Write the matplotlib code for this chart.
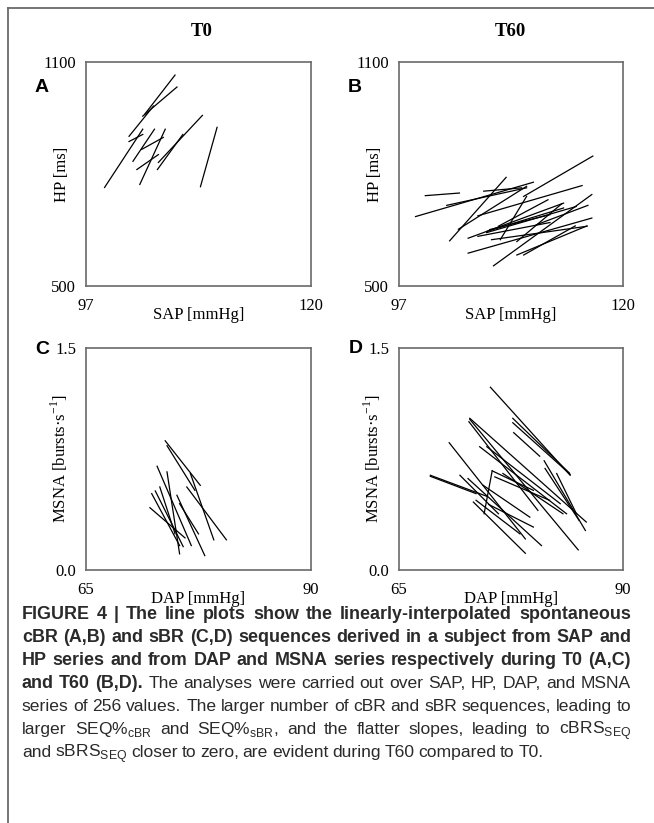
import matplotlib
matplotlib.use("Agg")
import matplotlib.pyplot as plt
from matplotlib.lines import Line2D

# ── Sequence segments (start, end) per panel ─────────────────────────────────
A_sap = [(106.1, 103.0), (106.3, 102.8), (103.9, 101.4), (98.9, 102.8), (101.4, 102.8),
         (104.0, 101.8), (105.1, 102.5), (102.7, 104.9), (102.2, 104.4), (108.9, 104.4),
         (106.9, 104.3), (110.4, 108.7)]
A_hp = [(1065, 960), (1033, 955), (982, 901), (764, 920), (887, 906),
        (920, 834), (920, 772), (866, 898), (812, 852), (957, 831),
        (906, 812), (925, 766)]

B_sap = [(99.7, 103.2), (98.7, 110.8), (102.2, 108.0), (103.1, 110.1), (109.8, 116.9),
         (105.1, 115.8), (104.1, 116.8), (106.7, 116.8), (109.1, 116.3), (104.1, 113.9),
         (106.0, 115.2), (106.5, 116.3), (107.2, 112.3), (107.4, 110.1), (109.1, 113.7),
         (109.8, 115.1), (111.1, 116.4), (106.3, 112.5), (101.9, 110.1), (105.7, 109.6),
         (106.0, 113.9), (105.1, 112.5)]
B_hp = [(742, 749), (686, 778), (621, 791), (652, 767), (740, 848),
        (688, 769), (588, 682), (554, 745), (583, 661), (628, 722),
        (643, 713), (624, 660), (660, 731), (624, 740), (619, 720),
        (583, 661), (664, 716), (651, 691), (716, 763), (754, 763),
        (646, 709), (633, 670)]

C_dap = [(73.8, 77.7), (74.0, 77.1), (76.2, 80.6), (72.9, 76.7), (74.0, 75.4),
         (72.3, 75.4), (72.7, 75.8), (72.1, 76.0), (75.1, 78.2), (75.4, 77.5),
         (76.6, 79.2), (73.2, 74.9)]
C_msna = [(0.873, 0.572), (0.840, 0.538), (0.561, 0.204), (0.701, 0.165), (0.663, 0.109),
          (0.516, 0.165), (0.534, 0.158), (0.421, 0.217), (0.505, 0.097), (0.448, 0.244),
          (0.652, 0.204), (0.561, 0.244)]

D_dap = [(75.2, 84.1), (77.7, 84.0), (77.7, 84.1), (77.8, 80.7), (72.9, 85.9),
         (72.9, 85.0), (72.8, 80.5), (70.6, 79.1), (68.5, 74.8), (68.5, 73.6),
         (71.8, 76.1), (74.0, 83.7), (74.8, 83.0), (75.4, 74.5), (75.4, 80.0),
         (72.7, 80.9), (73.3, 79.1), (75.0, 80.0), (74.4, 79.6), (81.2, 85.8),
         (81.3, 85.1), (82.6, 84.8), (75.7, 81.8), (76.6, 83.3), (73.6, 78.5)]
D_msna = [(1.235, 0.640), (1.025, 0.656), (0.995, 0.647), (0.928, 0.769), (1.025, 0.324),
          (1.018, 0.136), (1.002, 0.403), (0.860, 0.210), (0.640, 0.498), (0.633, 0.516),
          (0.640, 0.380), (0.833, 0.380), (0.833, 0.448), (0.670, 0.380), (0.670, 0.538),
          (0.618, 0.165), (0.459, 0.113), (0.443, 0.290), (0.572, 0.357), (0.738, 0.267),
          (0.686, 0.335), (0.652, 0.380), (0.629, 0.471), (0.652, 0.380), (0.471, 0.244)]

CAPTION = [
    [("FIGURE 4 | The line plots show the linearly-interpolated spontaneous", True)],
    [("cBR (A,B) and sBR (C,D) sequences derived in a subject from SAP and", True)],
    [("HP series and from DAP and MSNA series respectively during T0 (A,C)", True)],
    [("and T60 (B,D).", True), ("The analyses were carried out over SAP, HP, DAP, and MSNA", False)],
    [("series of 256 values. The larger number of cBR and sBR sequences, leading to", False)],
    [(r"larger SEQ%$_\mathregular{cBR}$ and SEQ%$_\mathregular{sBR}$, and the flatter slopes, "
      r"leading to cBRS$_\mathregular{SEQ}$", False)],
    [(r"and sBRS$_\mathregular{SEQ}$ closer to zero, are evident during T60 compared to T0.", False)],
]

# ── Style ─────────────────────────────────────────────────────────────────────
W, H = 654, 823
SERIF = "Liberation Serif"
SANS = "Liberation Sans"
FRAME = "#6a6a6a"
TXT = "#2a2a2a"

plt.rcParams.update({
    "font.family": SERIF,
    "font.size": 12,
    "axes.edgecolor": FRAME,
    "axes.linewidth": 1.2,
})

fig = plt.figure(figsize=(W / 100, H / 100), dpi=100)


def px_box(x0, y0, x1, y1):
    return [x0 / W, 1 - y1 / H, (x1 - x0) / W, (y1 - y0) / H]


def panel(box, xs, ys, xlim, ylim, xlabel, ylabel, yfmt):
    ax = fig.add_axes(px_box(*box))
    for (x0, x1), (y0, y1) in zip(xs, ys):
        ax.plot([x0, x1], [y0, y1], color="black", linewidth=0.9)
    ax.set_xlim(*xlim)
    ax.set_ylim(*ylim)
    ax.set_xticks(list(xlim))
    ax.set_xticklabels([str(v) for v in xlim])
    ax.set_yticks(list(ylim))
    ax.set_yticklabels([yfmt.format(v) for v in ylim])
    ax.tick_params(axis="x", length=0, pad=9, labelsize=12)
    ax.tick_params(axis="y", length=0, pad=7, labelsize=12)
    ax.set_xlabel(xlabel, fontsize=12, va="top")
    ax.xaxis.set_label_coords(0.5, -0.095)
    ax.set_ylabel(ylabel, fontsize=12)
    ax.yaxis.set_label_coords(-0.072, 0.5)
    return ax


MSNA_LABEL = r"MSNA [bursts·s$^{\mathregular{-1}}$]"
panel((86, 62, 311, 286), A_sap, A_hp, (97, 120), (500, 1100), "SAP [mmHg]", "HP [ms]", "{:d}")
panel((399, 62, 623, 286), B_sap, B_hp, (97, 120), (500, 1100), "SAP [mmHg]", "HP [ms]", "{:d}")
panel((86, 348, 311, 570), C_dap, C_msna, (65, 90), (0.0, 1.5), "DAP [mmHg]", MSNA_LABEL, "{:.1f}")
panel((399, 348, 623, 570), D_dap, D_msna, (65, 90), (0.0, 1.5), "DAP [mmHg]", MSNA_LABEL, "{:.1f}")

# column titles and panel letters
fig.text(202 / W, 1 - 32 / H, "T0", ha="center", va="center", fontsize=13.5, fontweight="bold")
fig.text(510 / W, 1 - 32 / H, "T60", ha="center", va="center", fontsize=13.5, fontweight="bold")
for lab, (x, y) in zip("ABCD", [(42, 87), (355, 87), (42, 350), (356, 349)]):
    fig.text(x / W, 1 - y / H, lab, ha="center", va="center", fontsize=14,
             fontweight="bold", family=SANS)

# frame (top and left rules)
fig.add_artist(Line2D([7.5 / W, 1], [1 - 8 / H, 1 - 8 / H], color=FRAME, linewidth=1.3))
fig.add_artist(Line2D([7.5 / W, 7.5 / W], [0, 1 - 8 / H], color=FRAME, linewidth=1.3))

# ── Caption, justified ────────────────────────────────────────────────────────
FS_BOLD, FS_REG = 12.9, 12.6
X_LEFT, X_RIGHT = 22, 631
renderer = fig.canvas.get_renderer()
for i, line in enumerate(CAPTION):
    base = 619 + 23 * i
    words = []
    for chunk, bold in line:
        for w in chunk.split(" "):
            words.append((w, bold))
    texts = [fig.text(0, 1 - base / H, w, family=SANS, color=TXT, va="baseline",
                      fontsize=FS_BOLD if b else FS_REG,
                      fontweight="bold" if b else "normal")
             for w, b in words]
    widths = [t.get_window_extent(renderer).width for t in texts]
    last = i == len(CAPTION) - 1
    gap = 3.8 if last else (X_RIGHT - X_LEFT - sum(widths)) / (len(words) - 1)
    x = X_LEFT
    for t, w in zip(texts, widths):
        t.set_x(x / W)
        x += w + gap

fig.savefig("out.png", dpi=100)
